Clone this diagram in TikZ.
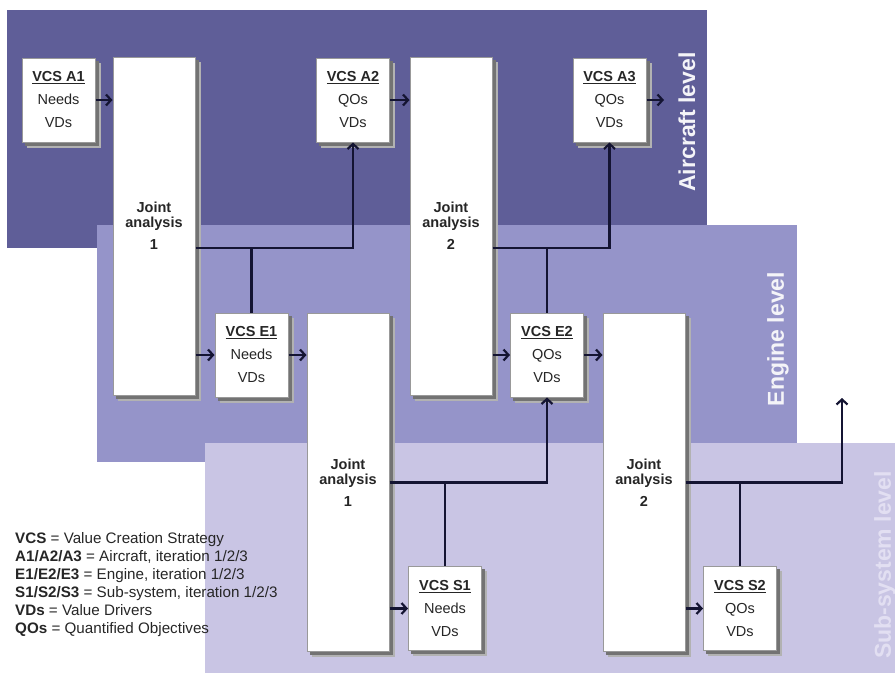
\documentclass[tikz,border=0pt]{standalone}
\usepackage{fontspec}
\setsansfont{Liberation Sans}
\usetikzlibrary{arrows.meta}

\definecolor{aircraftband}{RGB}{95,94,152}
\definecolor{engineband}{RGB}{149,148,201}
\definecolor{subband}{RGB}{201,197,228}
\definecolor{sublabel}{RGB}{226,223,242}
\definecolor{linkblue}{RGB}{20,20,50}

\pgfdeclarelayer{bands}
\pgfdeclarelayer{shade}
\pgfsetlayers{bands,shade,main}

\begin{document}
\begin{tikzpicture}[x=1pt, y=-1pt, font=\sffamily,
  vcs/.style={draw=gray!80, line width=1pt, fill=white, text=black!85, minimum width=73pt, minimum height=84pt,
    inner sep=0pt, align=center, font=\sffamily\fontsize{14.5}{23}\selectfont},
  joint/.style={vcs, minimum width=82pt, minimum height=338pt, font=\sffamily\bfseries\fontsize{14.5}{15}\selectfont},
  flow/.style={draw=linkblue, line width=2.2pt, -{Straight Barb[length=5pt,width=11pt]}},
  link/.style={draw=linkblue, line width=2.2pt},
  level/.style={rotate=90, text=white!93!aircraftband, font=\sffamily\bfseries\fontsize{23}{23}\selectfont},
  legend/.style={anchor=base west, inner sep=0pt, text=black!85, font=\sffamily\fontsize{15.2}{18}\selectfont}]

  \useasboundingbox (0,0) rectangle (895,673);

  % Level bands
  \begin{pgfonlayer}{bands}
    \fill[aircraftband] (7,10) rectangle (707,248);
    \fill[engineband] (97,225) rectangle (797,462);
    \fill[subband] (205,443) rectangle (895,673);
  \end{pgfonlayer}

  % Level labels
  \node[level] (aircraft) at (687,122) {Aircraft level};
  \node[level] (engine) at (778,339) {Engine level};
  \node[level, text=sublabel] (subsystem) at (885,565) {Sub-system level};

  % Aircraft level
  \node[vcs] (A1) at (58.5,100) {\underline{\textbf{VCS A1}}\\Needs\\VDs};
  \node[joint] (JA1) at (154,226) {Joint\\analysis\\[7pt]1};
  \node[vcs] (A2) at (353,100) {\underline{\textbf{VCS A2}}\\QOs\\VDs};
  \node[joint] (JA2) at (451,226) {Joint\\analysis\\[7pt]2};
  \node[vcs] (A3) at (609.5,100) {\underline{\textbf{VCS A3}}\\QOs\\VDs};
  \coordinate (a3out) at (664,100);

  % Engine level
  \node[vcs] (E1) at (251.5,355) {\underline{\textbf{VCS E1}}\\Needs\\VDs};
  \node[joint] (JE1) at (348,482.5) {Joint\\analysis\\[7pt]1};
  \node[vcs] (E2) at (547,355) {\underline{\textbf{VCS E2}}\\QOs\\VDs};
  \node[joint] (JE2) at (644,482.5) {Joint\\analysis\\[7pt]2};

  % Sub-system level
  \node[vcs] (S1) at (445,608.5) {\underline{\textbf{VCS S1}}\\Needs\\VDs};
  \node[vcs] (S2) at (740,608.5) {\underline{\textbf{VCS S2}}\\QOs\\VDs};
  \coordinate (s2out) at (842,398);

  % Box shadows
  \begin{pgfonlayer}{shade}
    \foreach \b in {A1,JA1,A2,JA2,A3,E1,JE1,E2,JE2,S1,S2} {
      \fill[black!30] ([shift={(5,5)}]\b.north west) rectangle ([shift={(5,5)}]\b.south east);
      \fill[black!55] ([shift={(3,3)}]\b.north west) rectangle ([shift={(3,3)}]\b.south east);
    }
  \end{pgfonlayer}

  % Forward flow
  \draw[flow] (A1.east) -- (A1.east -| JA1.west);
  \draw[flow] (A2.east) -- (A2.east -| JA2.west);
  \draw[flow] (A3.east) -- (a3out);
  \draw[flow] (JA1.east |- E1.west) -- (E1.west);
  \draw[flow] (E1.east) -- (E1.east -| JE1.west);
  \draw[flow] (JA2.east |- E2.west) -- (E2.west);
  \draw[flow] (E2.east) -- (E2.east -| JE2.west);
  \draw[flow] (JE1.east |- S1.west) -- (S1.west);
  \draw[flow] (JE2.east |- S2.west) -- (S2.west);

  % Results fed upwards
  \coordinate (ja1out) at ([yshift=-22pt]JA1.east);
  \coordinate (ja2out) at ([yshift=-22pt]JA2.east);
  \draw[flow] (ja1out) -| (A2.south);
  \draw[link] (E1.north) -- (E1.north |- ja1out);
  \draw[flow] (ja2out) -| (A3.south);
  \draw[link] (E2.north) -- (E2.north |- ja2out);
  \draw[flow] (JE1.east) -| (E2.south);
  \draw[link] (S1.north) -- (S1.north |- JE1.east);
  \draw[flow] (JE2.east) -| (s2out);
  \draw[link] (S2.north) -- (S2.north |- JE2.east);

  % Legend
  \node[legend] (key1) at (15,543) {\textbf{VCS} = Value Creation Strategy};
  \node[legend] (key2) at (15,561) {\textbf{A1/A2/A3} = Aircraft, iteration 1/2/3};
  \node[legend] (key3) at (15,579) {\textbf{E1/E2/E3} = Engine, iteration 1/2/3};
  \node[legend] (key4) at (15,597) {\textbf{S1/S2/S3} = Sub-system, iteration 1/2/3};
  \node[legend] (key5) at (15,615) {\textbf{VDs} = Value Drivers};
  \node[legend] (key6) at (15,633) {\textbf{QOs} = Quantified Objectives};

\end{tikzpicture}
\end{document}
